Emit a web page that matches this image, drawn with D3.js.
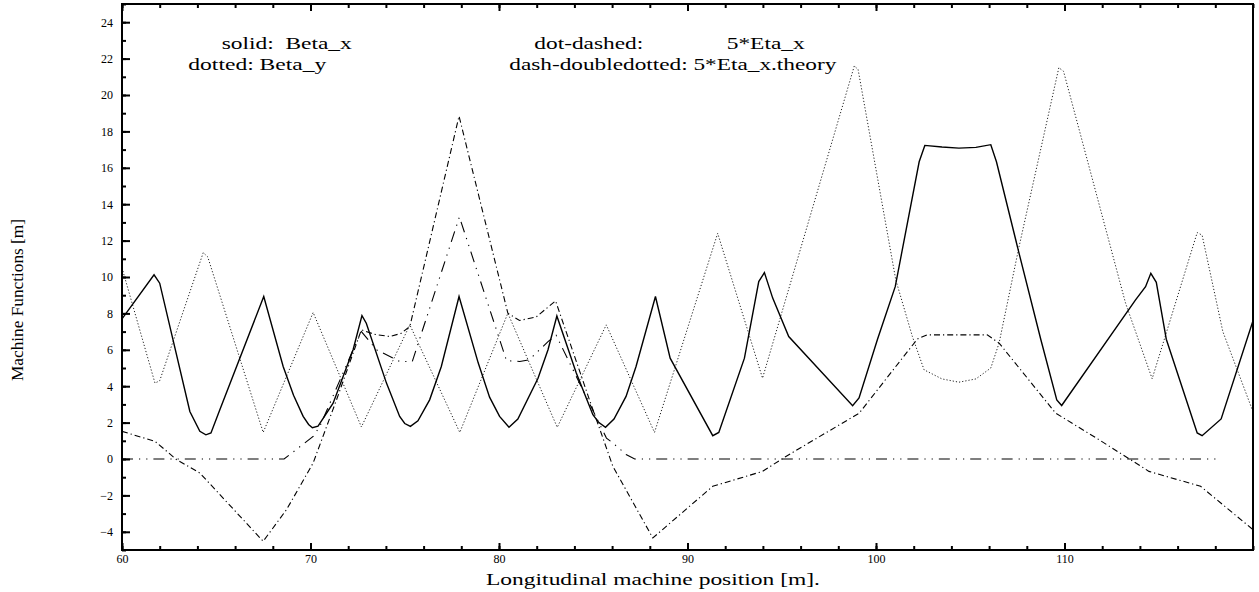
<!DOCTYPE html>
<html><head><meta charset="utf-8">
<script src="https://cdn.jsdelivr.net/npm/d3@7"></script>
<style>
body{margin:0;background:#fff;}
text{font-family:"Liberation Serif","Times New Roman",serif;fill:#000;}
</style>
</head><body>
<svg id="c" width="1259" height="592"></svg>
<script>
// ---- data (s [m], value [m]) ----
const betaX = [[60,7.7],[61.7,10.12],[62.0,9.66],[63.6,2.61],[64.13,1.52],[64.45,1.33],[64.72,1.43],[65.19,2.7],[67.52,8.93],
 [68.55,5.08],[69.1,3.5],[69.61,2.34],[69.9,1.9],[70.1,1.72],[70.4,1.8],[71.2,3.07],[72.26,6.0],[72.73,7.88],[72.96,7.46],
 [74.03,4.17],[74.73,2.34],[75.0,1.95],[75.3,1.79],[75.7,2.1],[76.32,3.25],[76.94,5.08],[77.88,8.93],
 [78.9,5.27],[79.5,3.4],[80.03,2.34],[80.53,1.74],[81.0,2.2],[82.07,4.44],[82.6,6.0],[83.07,7.86],
 [84.1,4.72],[84.98,2.43],[85.3,2.0],[85.65,1.74],[86.1,2.2],[86.74,3.44],[87.27,5.08],[88.3,8.93],
 [89.08,5.54],[91.34,1.28],[91.66,1.46],[93.02,5.54],[93.78,9.75],[94.08,10.24],[94.52,8.84],[95.37,6.73],
 [98.76,2.93],[99.1,3.35],[100.08,6.58],[101.02,9.47],[102.29,16.33],[102.59,17.23],[103.5,17.14],[104.4,17.08],
 [105.3,17.12],[106.09,17.27],[106.39,16.33],[107.59,11.3],[108.74,6.58],[109.59,3.25],[109.85,2.94],
 [113.77,8.74],[114.3,9.47],[114.58,10.2],[114.87,9.71],[115.4,6.58],[117.04,1.43],[117.3,1.28],[118.31,2.2],[120,7.6]];

const betaY = [[60,10.5],[61.75,4.17],[62.0,4.3],[64.31,11.34],[64.55,11.1],[67.49,1.46],[70.14,8.05],[72.7,1.76],
 [75.27,7.37],[77.92,1.46],[80.47,8.01],[83.09,1.74],[85.69,7.37],[88.25,1.46],[91.6,12.4],[93.98,4.44],
 [98.85,21.6],[99.05,21.4],[101.05,9.84],[101.93,6.73],[102.55,4.9],[103.5,4.4],[104.4,4.22],[105.3,4.4],[106.09,5.0],
 [106.53,6.37],[107.59,11.67],[109.7,21.5],[109.95,21.3],[113.24,8.56],[114.65,4.41],[117.04,12.44],[117.3,12.3],
 [118.4,7.0],[120,2.6]];

const etaX = [[60,1.52],[61.75,0.97],[62.9,-0.04],[64.13,-0.77],[67.49,-4.52],[68.73,-2.78],[70.14,-0.22],[71.38,3.25],
 [72.7,7.1],[73.4,6.85],[74.2,6.73],[74.8,6.9],[75.27,7.28],[77.88,18.84],[80.47,8.01],[81.09,7.61],[81.97,7.8],
 [83.0,8.69],[84.8,3.25],[86.04,-0.4],[88.16,-4.34],[91.34,-1.5],[93.98,-0.68],[95.22,0.14],[99.11,2.52],
 [102.2,6.6],[102.7,6.82],[105.9,6.82],[106.53,6.37],[109.53,2.52],[111.83,1.06],[114.48,-0.68],[117.22,-1.5],[120,-3.88]];

const etaTheory = [[60,0],[68.6,0],[70.14,1.24],[70.5,1.8],[72.26,6.0],[72.7,7.0],[73.5,6.0],[74.73,5.36],[75.4,5.36],
 [77.9,13.3],[80.4,5.4],[81.1,5.36],[81.6,5.45],[82.6,6.45],[83.03,6.8],[85.7,1.15],[86.04,0.88],[86.74,0.25],
 [87.2,0],[118.1,0]];

const xMajorTicks = [60,70,80,90,100,110];
const xMinorTicks = d3.range(60,121,2);
const yMajorTicks = [-4,-2,0,2,4,6,8,10,12,14,16,18,20,22,24];
const yMinorTicks = d3.range(-5,26,1);

const xTitle = "Longitudinal machine position [m].";
const yTitle = "Machine Functions [m]";
const legendTexts = ["solid:  Beta_x","dotted: Beta_y","dot-dashed:","5*Eta_x","dash-doubledotted: 5*Eta_x.theory"];

// ---- drawing ----
const L=122,R=1253,T=4,B=550;
const svg = d3.select("#c");
const x = d3.scaleLinear().domain([60,120]).range([L,R]);
const y = d3.scaleLinear().domain([-5,25]).range([B,T]);

svg.append("defs").append("clipPath").attr("id","clip")
  .append("rect").attr("x",L).attr("y",T).attr("width",R-L).attr("height",B-T);

const line = d3.line().x(d=>x(d[0])).y(d=>y(d[1]));
const g = svg.append("g").attr("clip-path","url(#clip)");

g.append("path").datum(betaY).attr("d",line).attr("fill","none")
  .attr("stroke","#222").attr("stroke-width",1).attr("stroke-dasharray","1.2,2");
g.append("path").datum(etaTheory).attr("d",line).attr("fill","none")
  .attr("stroke","#000").attr("stroke-width",1.1).attr("stroke-dasharray","11,6,1.2,6,1.2,6");
g.append("path").datum(etaX).attr("d",line).attr("fill","none")
  .attr("stroke","#000").attr("stroke-width",1.1).attr("stroke-dasharray","6,3,1.2,3");
g.append("path").datum(betaX).attr("d",line).attr("fill","none")
  .attr("stroke","#000").attr("stroke-width",1.4);

// axes
function styleAxis(sel){
  sel.select(".domain").remove();
  sel.selectAll(".tick line").attr("stroke","#000").attr("stroke-width",2);
  sel.selectAll("text").style("font-family","Liberation Serif, serif").style("font-size","12px").attr("fill","#000");
}
svg.append("g").attr("transform",`translate(0,${B})`)
  .call(d3.axisBottom(x).tickValues(xMinorTicks).tickSizeInner(-4).tickSizeOuter(0).tickFormat(""))
  .call(styleAxis);
svg.append("g").attr("transform",`translate(0,${B})`)
  .call(d3.axisBottom(x).tickValues(xMajorTicks).tickSizeInner(-7).tickSizeOuter(0).tickPadding(4).tickFormat(d3.format("d")))
  .call(styleAxis);
svg.append("g").attr("transform",`translate(0,${T})`)
  .call(d3.axisTop(x).tickValues(xMinorTicks).tickSizeInner(-4).tickSizeOuter(0).tickFormat(""))
  .call(styleAxis);
svg.append("g").attr("transform",`translate(0,${T})`)
  .call(d3.axisTop(x).tickValues(xMajorTicks).tickSizeInner(-7).tickSizeOuter(0).tickFormat(""))
  .call(styleAxis);
svg.append("g").attr("transform",`translate(${L},0)`)
  .call(d3.axisLeft(y).tickValues(yMinorTicks).tickSizeInner(-4).tickSizeOuter(0).tickFormat(""))
  .call(styleAxis);
svg.append("g").attr("transform",`translate(${L},0)`)
  .call(d3.axisLeft(y).tickValues(yMajorTicks).tickSizeInner(-8).tickSizeOuter(0).tickPadding(9).tickFormat(d3.format("d")))
  .call(styleAxis);

svg.append("rect").attr("x",L).attr("y",T).attr("width",R-L).attr("height",B-T)
  .attr("fill","none").attr("stroke","#000").attr("stroke-width",2);

// titles
svg.append("text").attr("x",653).attr("y",585).attr("text-anchor","middle")
  .style("font-size","17px").attr("textLength",334).attr("lengthAdjust","spacingAndGlyphs").text(xTitle);
svg.append("text").attr("transform","translate(23,300) rotate(-90)").attr("text-anchor","middle")
  .style("font-size","16px").attr("textLength",162).attr("lengthAdjust","spacingAndGlyphs").text(yTitle);

// legend
const legPos = [[221.7,49,130],[188.3,70,138],[534.3,48.5,109],[726.7,48.5,78],[509.3,69.5,327]];
legendTexts.forEach((t,i)=>{
  svg.append("text").attr("x",legPos[i][0]).attr("y",legPos[i][1])
    .style("font-size","16px").style("white-space","pre")
    .attr("textLength",legPos[i][2]).attr("lengthAdjust","spacingAndGlyphs").text(t);
});
</script>
</body></html>
